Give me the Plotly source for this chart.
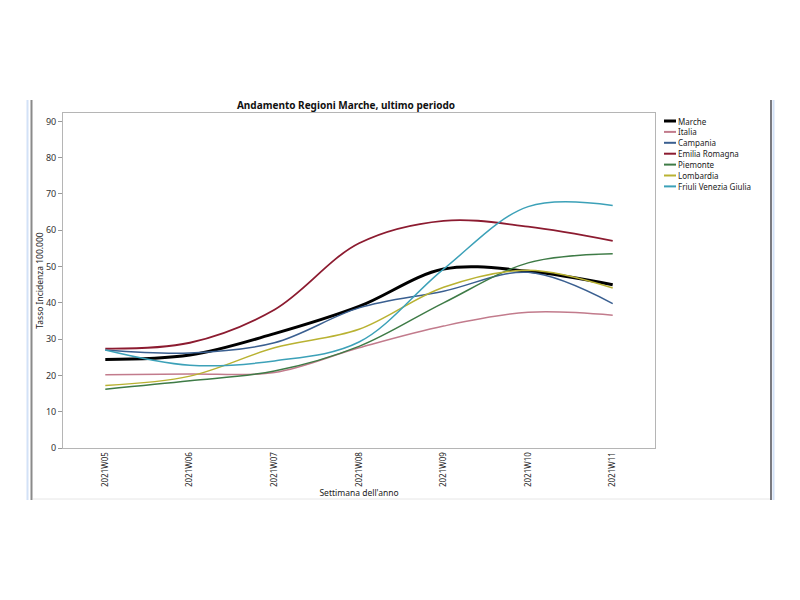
import plotly.graph_objects as go

weeks = ["2021W05", "2021W06", "2021W07", "2021W08", "2021W09", "2021W10", "2021W11"]

marche = [24.4, 25.6, 31.5, 39.0, 49.3, 48.7, 45.0]
italia = [20.2, 20.4, 20.8, 27.6, 33.6, 37.4, 36.6]
campania = [27.0, 26.2, 29.0, 38.6, 43.2, 48.4, 39.8]
emilia = [27.4, 29.0, 38.1, 56.4, 62.6, 61.0, 57.1]
piemonte = [16.2, 18.5, 21.2, 28.0, 40.0, 51.0, 53.5]
lombardia = [17.2, 19.8, 27.6, 32.7, 44.3, 49.0, 44.1]
friuli = [27.0, 22.8, 24.0, 29.2, 49.3, 66.5, 66.8]

names = ["Marche", "Italia", "Campania", "Emilia Romagna", "Piemonte", "Lombardia", "Friuli Venezia Giulia"]
series = [marche, italia, campania, emilia, piemonte, lombardia, friuli]
colors = ["#000000", "#c27b8c", "#3a5f90", "#8c1b30", "#3e7b46", "#b9b232", "#3ca1b8"]
widths = [3, 1.5, 1.5, 1.8, 1.5, 1.5, 1.5]

y_ticks = [0, 10, 20, 30, 40, 50, 60, 70, 80, 90]

FONT = "Noto Sans"
OFF = 8  # page body margin offset

fig = go.Figure()
for name, vals, col, w in zip(names, series, colors, widths):
    fig.add_trace(go.Scatter(x=weeks, y=vals, name=name, mode="lines",
                             line=dict(color=col, width=w, shape="spline", smoothing=1.0),
                             showlegend=False))

# screen-pixel helpers (reference coordinates)
ml, mt, pw, ph = 63 - OFF, 113 - OFF, 592, 335
def px2x(px):
    return (px - OFF - ml) / pw
def py2y(py):
    return (mt + ph - (py - OFF)) / ph

shapes = []
annotations = []
for i, (name, col) in enumerate(zip(names, colors)):
    yy = py2y(121 + i * 10.9)
    shapes.append(dict(type="line", xref="paper", yref="paper",
                       x0=px2x(664), x1=px2x(676), y0=yy, y1=yy,
                       line=dict(color=col, width=3 if i == 0 else 2)))
    annotations.append(dict(xref="paper", yref="paper", x=px2x(676), y=yy,
                            text=name, showarrow=False, xanchor="left", yanchor="middle",
                            font=dict(family=FONT, size=8, color="#222")))

# window frame decorations
for px, col, w in [(27.5, "#d3e2f7", 2), (31.5, "#8a8a8a", 2), (771, "#7a7a80", 2), (773.5, "#d3e2f7", 2)]:
    shapes.append(dict(type="line", xref="paper", yref="paper", x0=px2x(px), x1=px2x(px),
                       y0=py2y(100), y1=py2y(500), line=dict(color=col, width=w)))
shapes.append(dict(type="line", xref="paper", yref="paper", x0=px2x(33), x1=px2x(770),
                   y0=py2y(499), y1=py2y(499), line=dict(color="#e6e6e6", width=1)))

fig.update_layout(
    width=800, height=600,
    margin=dict(l=ml, r=800 - ml - pw, t=mt, b=600 - mt - ph),
    paper_bgcolor="white", plot_bgcolor="white",
    title=dict(text="<b>Andamento Regioni Marche, ultimo periodo</b>",
               x=(346 - OFF) / 800, y=1 - (105 - OFF) / 600, xref="container", yref="container",
               xanchor="center", yanchor="middle",
               font=dict(family=FONT, size=10, color="#111")),
    font=dict(family=FONT, size=9, color="#333"),
    shapes=shapes, annotations=annotations,
    xaxis=dict(type="category", range=[-0.5, 6.5], tickangle=-90,
               showline=True, mirror=True, linecolor="#b5b5b5", linewidth=1,
               showgrid=False, ticks="", zeroline=False,
               tickfont=dict(family=FONT, size=8, color="#222"),
               title=dict(text="Settimana dell'anno", standoff=1,
                          font=dict(family=FONT, size=8.5, color="#222"))),
    yaxis=dict(range=[0, 92.3], tickvals=y_ticks, showline=True, mirror=True,
               linecolor="#b5b5b5", linewidth=1, showgrid=False, zeroline=False,
               ticks="outside", ticklen=4, tickcolor="#999",
               tickfont=dict(family=FONT, size=9, color="#333"),
               title=dict(text="Tasso Incidenza 100.000", standoff=0,
                          font=dict(family=FONT, size=8.5, color="#222"))),
)

fig.write_html("out.html")
